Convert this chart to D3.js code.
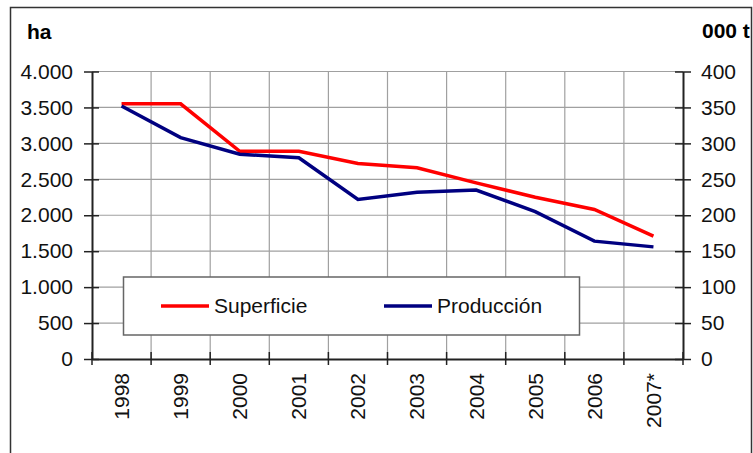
<!DOCTYPE html>
<html>
<head>
<meta charset="utf-8">
<script src="https://cdn.jsdelivr.net/npm/d3@7"></script>
<style>
  body { margin: 0; background: #fff; }
  text { font-family: "Liberation Sans", Arial, sans-serif; }
</style>
</head>
<body>
<div id="chart"></div>
<script>
var years = ["1998", "1999", "2000", "2001", "2002", "2003", "2004", "2005", "2006", "2007*"];
var superficie = [3550, 3550, 2890, 2890, 2720, 2660, 2450, 2250, 2080, 1710];
var produccion = [352, 308, 285, 280, 222, 232, 235, 205, 164, 156];
var leftTicks = [0, 500, 1000, 1500, 2000, 2500, 3000, 3500, 4000];
var rightTicks = [0, 50, 100, 150, 200, 250, 300, 350, 400];

var w = 753, h = 453;
var x0 = 92, x1 = 683, yTop = 71.5, yBot = 359;
var fs = 21;

var svg = d3.select("#chart").append("svg")
    .attr("width", w)
    .attr("height", h);

// outer frame
svg.append("rect")
    .attr("x", 10.5).attr("y", 7.5)
    .attr("width", 741).attr("height", 450)
    .attr("fill", "none")
    .attr("stroke", "#333")
    .attr("stroke-width", 1.5);

var x = d3.scaleBand().domain(years).range([x0, x1]);
var yL = d3.scaleLinear().domain([0, 4000]).range([yBot, yTop]);
var yR = d3.scaleLinear().domain([0, 400]).range([yBot, yTop]);

var fmt = function (d) { return d3.format(",")(d).replace(/,/g, "."); };

// grid
svg.append("g").selectAll("line")
    .data(leftTicks.slice(1))
    .enter().append("line")
    .attr("x1", x0).attr("x2", x1)
    .attr("y1", function (d) { return yL(d); })
    .attr("y2", function (d) { return yL(d); })
    .attr("stroke", "#a0a0a0").attr("stroke-width", 1.2);

svg.append("g").selectAll("line")
    .data(years.slice(1))
    .enter().append("line")
    .attr("x1", function (d) { return x(d); })
    .attr("x2", function (d) { return x(d); })
    .attr("y1", yTop).attr("y2", yBot)
    .attr("stroke", "#a0a0a0").attr("stroke-width", 1.2);

// left axis
var gL = svg.append("g").attr("transform", "translate(" + x0 + ",0)")
    .call(d3.axisLeft(yL).tickValues(leftTicks).tickFormat(fmt).tickSizeInner(8).tickSizeOuter(0).tickPadding(11));
gL.selectAll(".tick line").attr("x2", 7).attr("x1", -8);

// right axis
var gR = svg.append("g").attr("transform", "translate(" + x1 + ",0)")
    .call(d3.axisRight(yR).tickValues(rightTicks).tickSizeInner(8).tickSizeOuter(0).tickPadding(10));
gR.selectAll(".tick line").attr("x1", -8).attr("x2", 8);

// bottom axis
var gB = svg.append("g").attr("transform", "translate(0," + yBot + ")")
    .call(d3.axisBottom(x).tickSize(0).tickSizeOuter(0));
gB.selectAll(".tick text")
    .attr("transform", "rotate(-90)")
    .attr("text-anchor", "end")
    .attr("x", -14)
    .attr("y", 0)
    .attr("dy", "0.35em");
gB.selectAll(".tick line").remove();
gB.append("g").selectAll("line")
    .data(years.concat(["end"]))
    .enter().append("line")
    .attr("x1", function (d, i) { return x0 + i * x.bandwidth(); })
    .attr("x2", function (d, i) { return x0 + i * x.bandwidth(); })
    .attr("y1", -7).attr("y2", 6)
    .attr("stroke", "#222").attr("stroke-width", 1.5);

[gL, gR, gB].forEach(function (g) {
    g.selectAll("text").attr("font-size", fs).attr("fill", "#111")
        .style("font-family", "'Liberation Sans', Arial, sans-serif");
    g.select(".domain").attr("stroke", "#222").attr("stroke-width", 2);
    g.selectAll(".tick line").attr("stroke", "#222").attr("stroke-width", 1.5);
});

// units
svg.append("text").attr("x", 27).attr("y", 39)
    .attr("font-size", fs).attr("font-weight", "bold").text("ha");
svg.append("text").attr("x", 702).attr("y", 38)
    .attr("font-size", fs).attr("font-weight", "bold").text("000 t");

// lines
var cx = function (d, i) { return x(years[i]) + x.bandwidth() / 2; };
svg.append("path")
    .datum(superficie)
    .attr("fill", "none")
    .attr("stroke", "#ff0000")
    .attr("stroke-width", 3.5)
    .attr("d", d3.line().x(cx).y(function (d) { return yL(d); }));
svg.append("path")
    .datum(produccion)
    .attr("fill", "none")
    .attr("stroke", "#000080")
    .attr("stroke-width", 3.5)
    .attr("d", d3.line().x(cx).y(function (d) { return yR(d); }));

// legend
var lg = svg.append("g");
lg.append("rect")
    .attr("x", 123.5).attr("y", 277)
    .attr("width", 456).attr("height", 58)
    .attr("fill", "#fff").attr("stroke", "#666").attr("stroke-width", 1.5);
var items = [
    { name: "Superficie", color: "#ff0000", lx: 161 },
    { name: "Producción", color: "#000080", lx: 384 }
];
items.forEach(function (it) {
    lg.append("line")
        .attr("x1", it.lx).attr("x2", it.lx + 48)
        .attr("y1", 306).attr("y2", 306)
        .attr("stroke", it.color).attr("stroke-width", 3.5);
    lg.append("text")
        .attr("x", it.lx + 53).attr("y", 313)
        .attr("font-size", fs).attr("fill", "#111")
        .text(it.name);
});
</script>
</body>
</html>
